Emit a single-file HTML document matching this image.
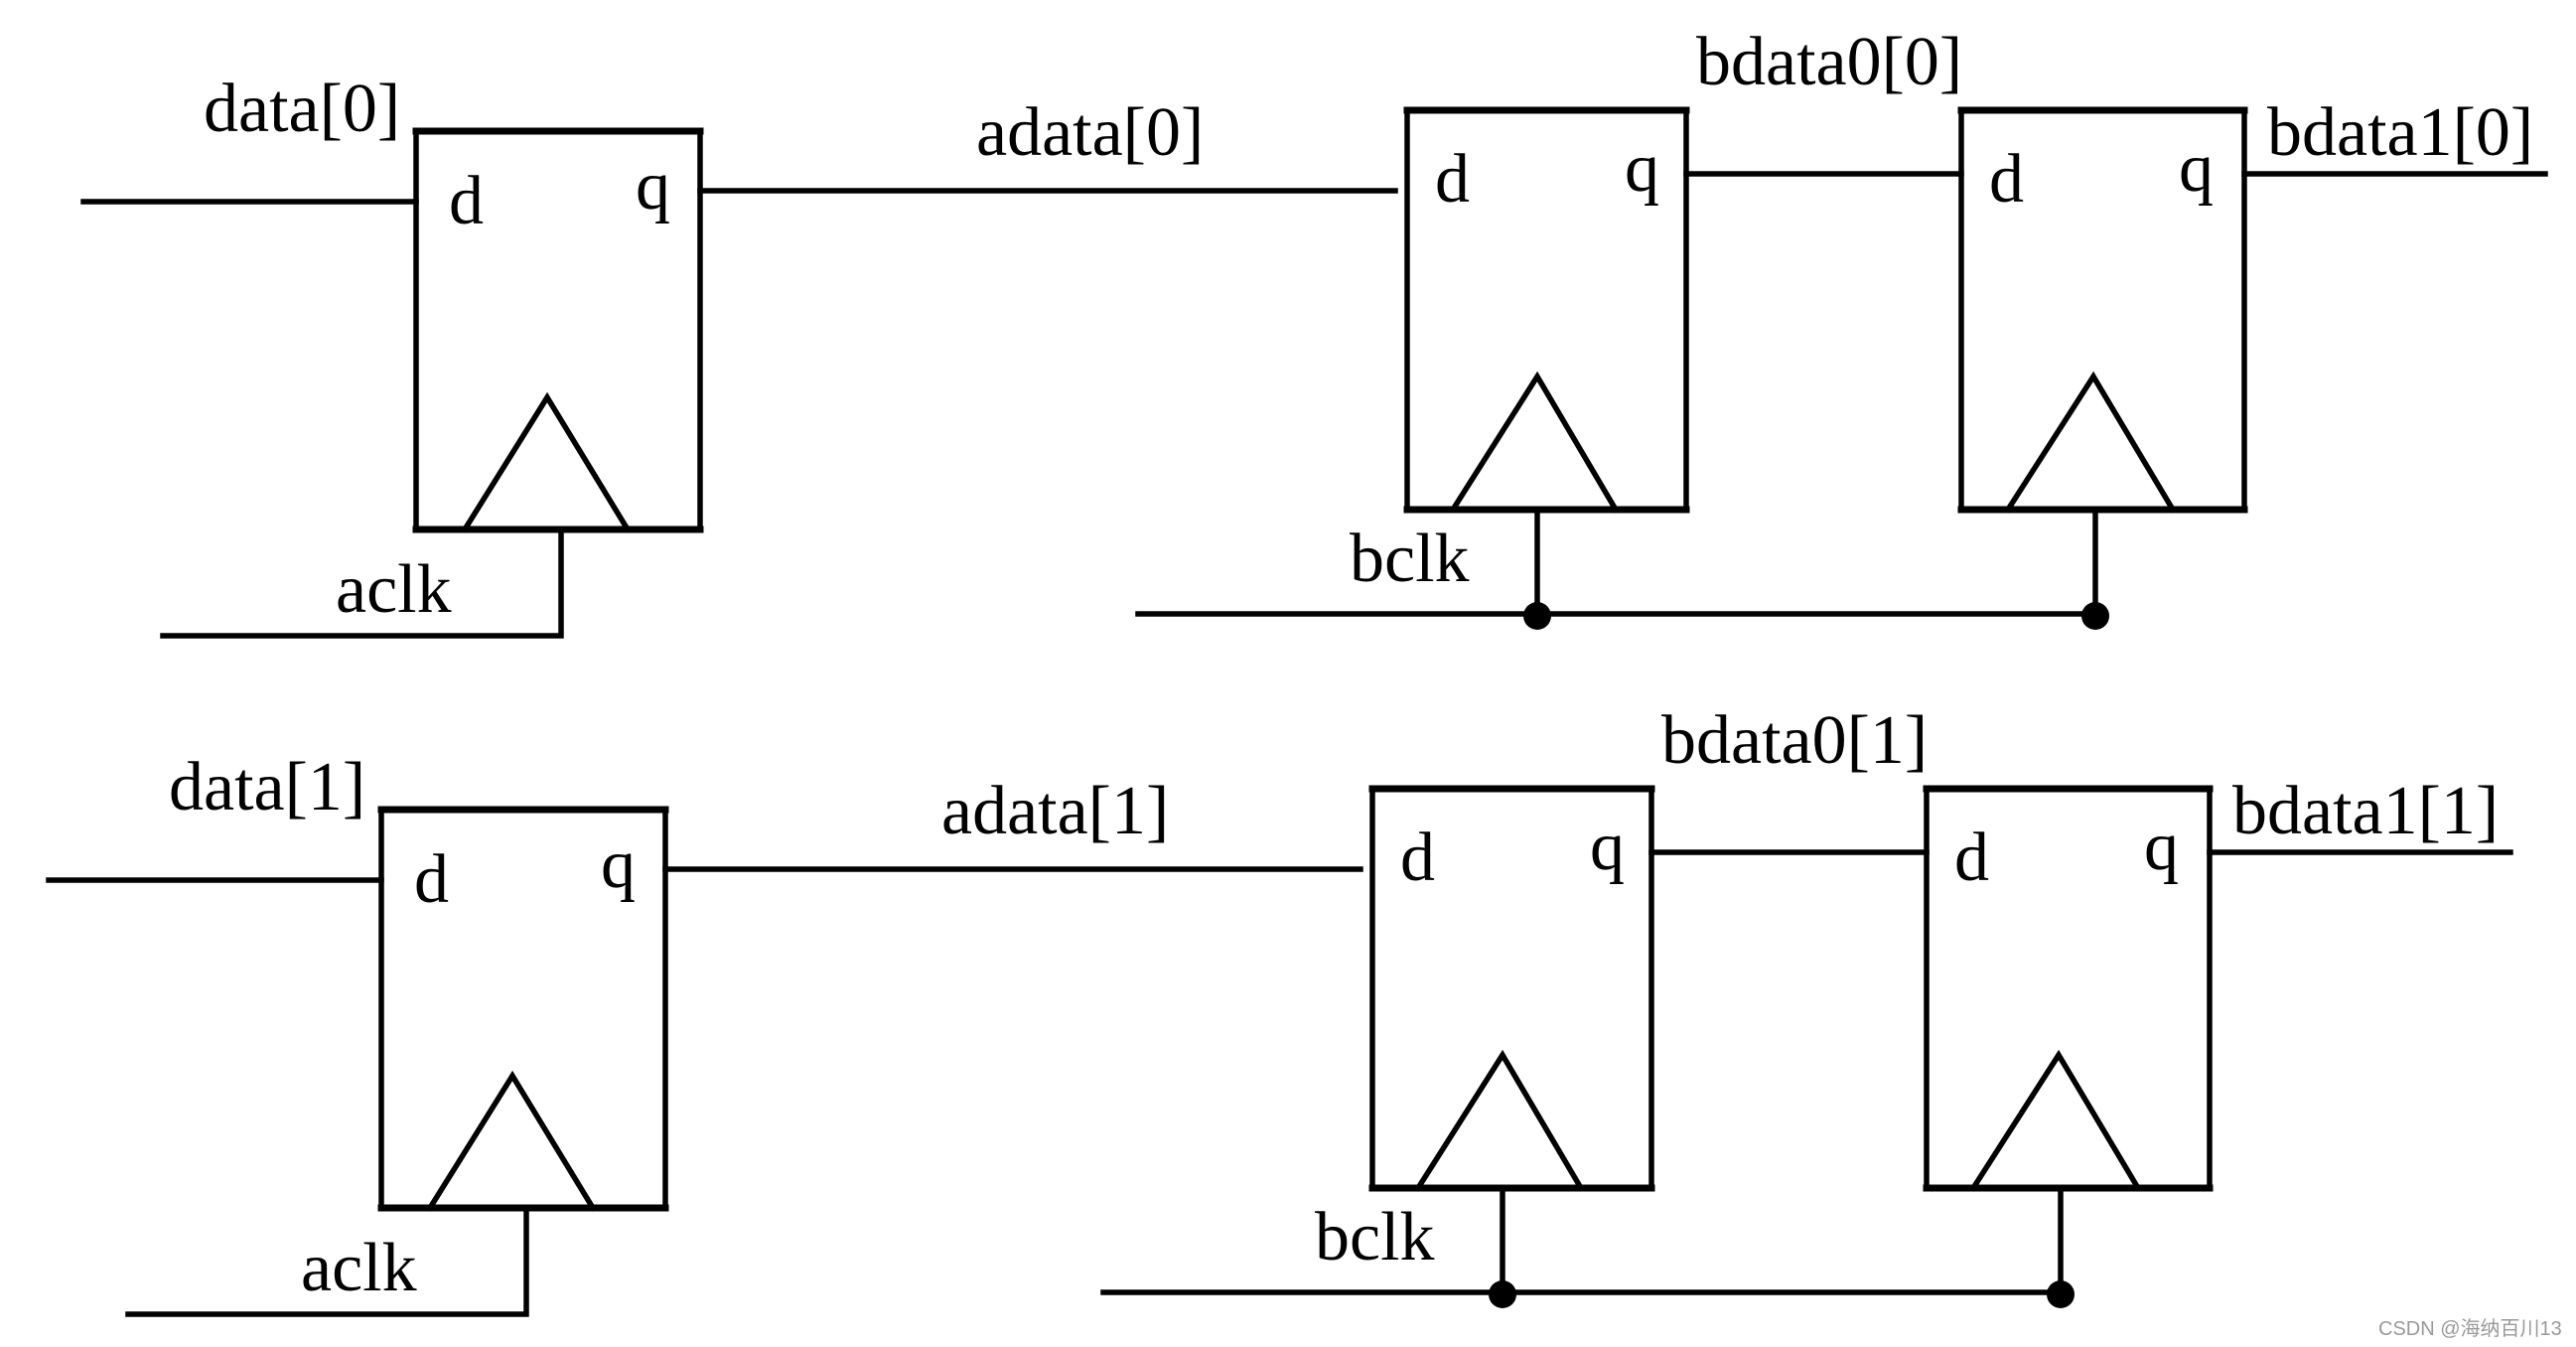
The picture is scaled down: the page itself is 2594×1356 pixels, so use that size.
<!DOCTYPE html>
<html><head><meta charset="utf-8"><style>
html,body{margin:0;padding:0;background:#fff;}
svg{display:block}
text{font-family:"Liberation Serif",serif;font-size:70px;fill:#000}
</style></head><body>
<svg width="2594" height="1356" viewBox="0 0 2594 1356" xmlns="http://www.w3.org/2000/svg">
<defs>
<g id="row" stroke="#000" stroke-width="5.5" fill="none" stroke-linecap="square">
  <line x1="84" y1="203" x2="419" y2="203"/>
  <rect x="419" y="132" width="286" height="401"/>
  <line x1="419" y1="132" x2="705" y2="132" stroke-width="7"/>
  <line x1="419" y1="533" x2="705" y2="533" stroke-width="7"/>
  <polyline points="468,533 551,400 632,533"/>
  <polyline points="565,533 565,640 164,640"/>
  <line x1="705" y1="192" x2="1405" y2="192"/>
  <rect x="1417" y="111" width="281" height="402"/>
  <line x1="1417" y1="111" x2="1698" y2="111" stroke-width="7"/>
  <line x1="1417" y1="513" x2="1698" y2="513" stroke-width="7"/>
  <polyline points="1463,513 1548,379 1627,513"/>
  <line x1="1698" y1="175" x2="1975" y2="175"/>
  <rect x="1975" y="111" width="285" height="402"/>
  <line x1="1975" y1="111" x2="2260" y2="111" stroke-width="7"/>
  <line x1="1975" y1="513" x2="2260" y2="513" stroke-width="7"/>
  <polyline points="2022,513 2108,379 2188,513"/>
  <line x1="2260" y1="175" x2="2563" y2="175"/>
  <line x1="1548" y1="513" x2="1548" y2="618"/>
  <line x1="2110" y1="513" x2="2110" y2="618"/>
  <line x1="1146" y1="618" x2="2110" y2="618"/>
  <circle cx="1548" cy="620" r="14" fill="#000" stroke="none"/>
  <circle cx="2110" cy="620" r="14" fill="#000" stroke="none"/>
</g>
</defs>
<use href="#row"/>
<use href="#row" transform="translate(-35,683)"/>
<text x="205" y="132">data[0]</text>
<text x="983" y="156">adata[0]</text>
<text x="1708" y="85">bdata0[0]</text>
<text x="2283" y="156">bdata1[0]</text>
<text x="338" y="616">aclk</text>
<text x="1359" y="585">bclk</text>
<text x="452" y="225">d</text>
<text x="640" y="210">q</text>
<text x="1445" y="203">d</text>
<text x="1636" y="192">q</text>
<text x="2003" y="203">d</text>
<text x="2194" y="192">q</text>
<g transform="translate(-35,683)">
<text x="205" y="132">data[1]</text>
<text x="983" y="156">adata[1]</text>
<text x="1708" y="85">bdata0[1]</text>
<text x="2283" y="156">bdata1[1]</text>
<text x="338" y="616">aclk</text>
<text x="1359" y="585">bclk</text>
<text x="452" y="225">d</text>
<text x="640" y="210">q</text>
<text x="1445" y="203">d</text>
<text x="1636" y="192">q</text>
<text x="2003" y="203">d</text>
<text x="2194" y="192">q</text>
</g>
<text x="2395" y="1344" style="font-family:'Liberation Sans','Noto Sans CJK SC',sans-serif;font-size:20px;fill:#999">CSDN @海纳百川13</text>
</svg>
</body></html>
